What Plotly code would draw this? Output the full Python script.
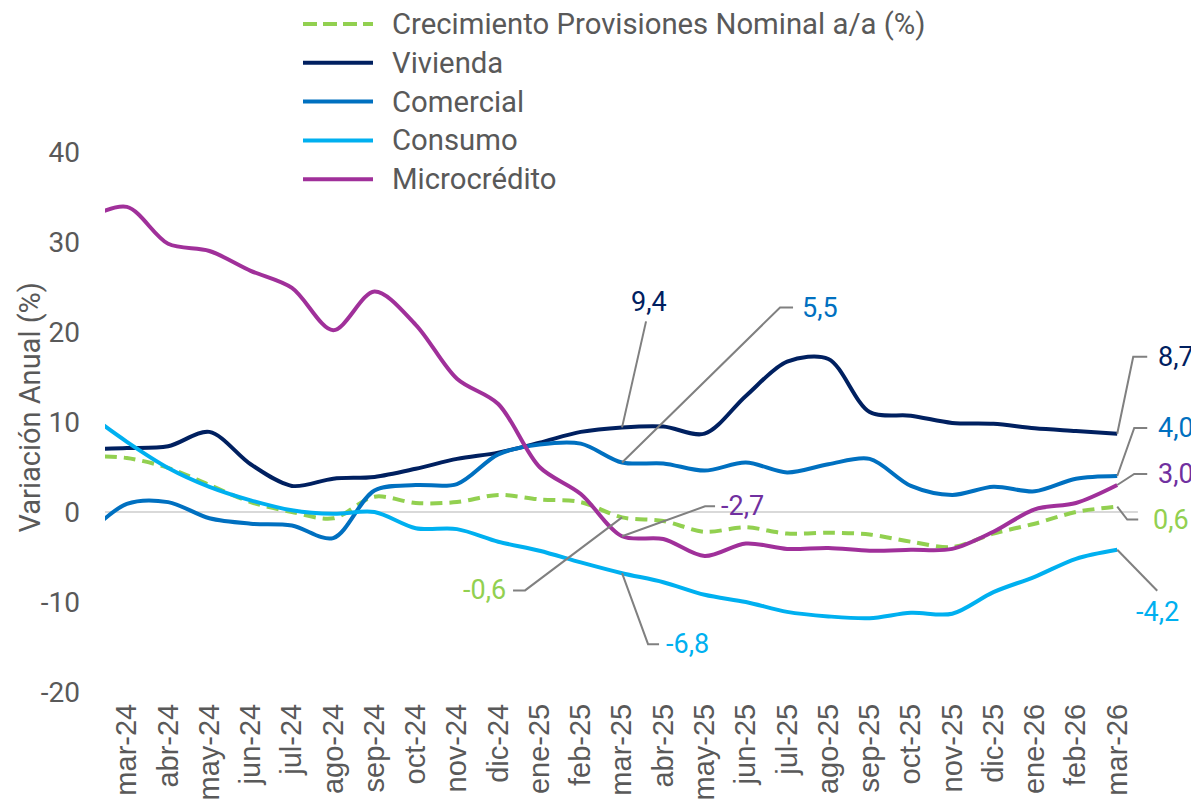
import plotly.graph_objects as go

# feb-24 is only partially visible at the left edge of the chart
months = ["feb-24", "mar-24", "abr-24", "may-24", "jun-24", "jul-24", "ago-24", "sep-24",
          "oct-24", "nov-24", "dic-24", "ene-25", "feb-25", "mar-25", "abr-25", "may-25",
          "jun-25", "jul-25", "ago-25", "sep-25", "oct-25", "nov-25", "dic-25", "ene-26",
          "feb-26", "mar-26"]

crecimiento = [6.2, 6.0, 4.9, 3.0, 1.1, 0.0, -0.7, 1.7, 1.0, 1.1, 1.9, 1.4, 1.1, -0.6, -1.0,
               -2.2, -1.7, -2.4, -2.3, -2.5, -3.3, -3.9, -2.4, -1.3, 0.0, 0.6]
vivienda = [7.0, 7.1, 7.3, 8.9, 5.3, 2.9, 3.7, 3.9, 4.8, 5.9, 6.6, 7.7, 8.9, 9.4, 9.5, 8.7,
            12.9, 16.7, 17.0, 11.1, 10.7, 9.9, 9.8, 9.3, 9.0, 8.7]
comercial = [-2.7, 0.9, 1.1, -0.7, -1.3, -1.5, -2.9, 2.4, 3.0, 3.1, 6.4, 7.5, 7.6, 5.5, 5.4,
             4.6, 5.5, 4.4, 5.3, 5.9, 2.9, 1.9, 2.8, 2.3, 3.7, 4.0]
consumo = [11.1, 7.8, 4.9, 2.8, 1.3, 0.2, -0.2, 0.0, -1.8, -1.9, -3.3, -4.3, -5.6, -6.8, -7.8,
           -9.2, -10.0, -11.1, -11.6, -11.8, -11.2, -11.3, -8.9, -7.2, -5.2, -4.2]
microcredito = [32.5, 33.9, 29.8, 29.0, 26.8, 24.9, 20.2, 24.5, 20.8, 14.8, 12.0, 5.0, 2.0,
                -2.7, -3.0, -4.9, -3.5, -4.1, -4.0, -4.3, -4.2, -4.1, -2.2, 0.3, 1.0, 3.0]

y_ticks = [-20, -10, 0, 10, 20, 30, 40]
y_tick_text = [str(v) for v in y_ticks]
y_title = "Variación Anual (%)"

x = list(range(-1, len(months) - 1))  # mar-24 -> 0
tick_vals = x[1:]
tick_text = months[1:]

C_CREC = "#92D050"
C_VIV = "#002060"
C_COM = "#0070C0"
C_CON = "#00B0F0"
C_MIC = "#A0309A"
C_MIC_TXT = "#7030A0"
GREY_TXT = "#595959"
LEADER = "#808080"

series = [
    ("Crecimiento Provisiones Nominal a/a (%)", crecimiento, C_CREC, "12px,7px"),
    ("Vivienda", vivienda, C_VIV, "solid"),
    ("Comercial", comercial, C_COM, "solid"),
    ("Consumo", consumo, C_CON, "solid"),
    ("Microcrédito", microcredito, C_MIC, "solid"),
]

# page body has an 8px margin, so the figure is 8px smaller and shifted
W, H = 1191, 799
ML, MR, MT, MB = 97, 24, 144, 115
PW, PH = W - ML - MR, H - MT - MB


def px_to_paper(px, py):
    return (px - ML) / PW, (MT + PH - py) / PH


fig = go.Figure()
for name, vals, col, dash in series:
    fig.add_trace(go.Scatter(
        x=x, y=vals, name=name, mode="lines", showlegend=False,
        line=dict(color=col, width=4, dash=dash, shape="spline", smoothing=0.9),
        hoverinfo="skip",
    ))

# legend (drawn manually to match the reference spacing)
LEG_X0, LEG_X1, LEG_TX, LEG_Y0, LEG_DY = 295, 365, 382, 16, 38.8
for k, (name, vals, col, dash) in enumerate(series):
    py = LEG_Y0 + k * LEG_DY
    xa, ya = px_to_paper(LEG_X0, py)
    xb, _ = px_to_paper(LEG_X1, py)
    xt, _ = px_to_paper(LEG_TX, py)
    fig.add_shape(type="line", xref="paper", yref="paper", x0=xa, x1=xb, y0=ya, y1=ya,
                  line=dict(color=col, width=4, dash="14px,6px" if dash != "solid" else "solid"))
    fig.add_annotation(xref="paper", yref="paper", x=xt, y=ya, text=name, showarrow=False,
                       xanchor="left", yanchor="middle",
                       font=dict(family="Roboto", size=29.3, color=GREY_TXT))

# zero line
fig.add_shape(type="line", xref="x", yref="y", x0=-0.53, x1=24.5, y0=0, y1=0,
              line=dict(color="#D9D9D9", width=2), layer="below")

# data labels with leader lines
idx_m25 = months.index("mar-25") - 1
idx_m26 = months.index("mar-26") - 1
labels = [
    (vivienda, idx_m25, C_VIV, "M0,0 L24,106", 27, 125, "center"),
    (comercial, idx_m25, C_COM, "M0,0 L158,155 L171,155", 178, 155, "left"),
    (crecimiento, idx_m25, C_CREC, "M0,0 L-97,-73 L-109,-73", -114, -73, "right"),
    (microcredito, idx_m25, C_MIC_TXT, "M0,0 L83,30 L93,30", 97, 30, "left"),
    (consumo, idx_m25, C_CON, "M0,0 L26,-71 L37,-71", 42, -71, "left"),
    (vivienda, idx_m26, C_VIV, "M0,0 L16,77 L30,77", 39, 77, "left"),
    (comercial, idx_m26, C_COM, "M0,0 L17,48 L30,48", 39, 48, "left"),
    (microcredito, idx_m26, C_MIC_TXT, "M0,0 L17,11 L30,11", 39, 11, "left"),
    (crecimiento, idx_m26, C_CREC, "M0,0 L10,-13 L21,-13", 34, -13, "left"),
    (consumo, idx_m26, C_CON, "M0,0 L40,-41", 40, -62, "center"),
]
for vals, i, col, path, dx, dy, anchor in labels:
    v = vals[i + 1]
    fig.add_shape(type="path", xref="x", yref="y", xsizemode="pixel", ysizemode="pixel",
                  xanchor=i, yanchor=v, path=path, line=dict(color=LEADER, width=2))
    fig.add_annotation(x=i, y=v, xref="x", yref="y", text=f"{v:.1f}".replace(".", ","),
                       showarrow=False, xshift=dx, yshift=dy, xanchor=anchor, yanchor="middle",
                       font=dict(family="Roboto", size=27, color=col))

fig.add_annotation(xref="paper", yref="paper", x=-0.0705, y=0.526, text=y_title, textangle=-90,
                   xanchor="center", yanchor="middle", showarrow=False,
                   font=dict(family="Roboto", size=29, color=GREY_TXT))

fig.update_layout(
    width=W, height=H,
    margin=dict(l=ML, r=MR, t=MT, b=MB, autoexpand=False),
    plot_bgcolor="white", paper_bgcolor="white",
    showlegend=False,
    xaxis=dict(range=[-0.53, 25.4], tickvals=tick_vals, ticktext=tick_text, tickangle=-90,
               showgrid=False, zeroline=False, showline=False, ticks="", automargin=False,
               ticklabelstandoff=5,
               tickfont=dict(family="Liberation Sans", size=29, color=GREY_TXT)),
    yaxis=dict(range=[-20, 40], tickvals=y_ticks, ticktext=y_tick_text, showgrid=False,
               zeroline=False, showline=False, ticks="", ticklabelstandoff=24, automargin=False,
               tickfont=dict(family="Roboto", size=28, color=GREY_TXT)),
)

fig.write_html("out.html")
